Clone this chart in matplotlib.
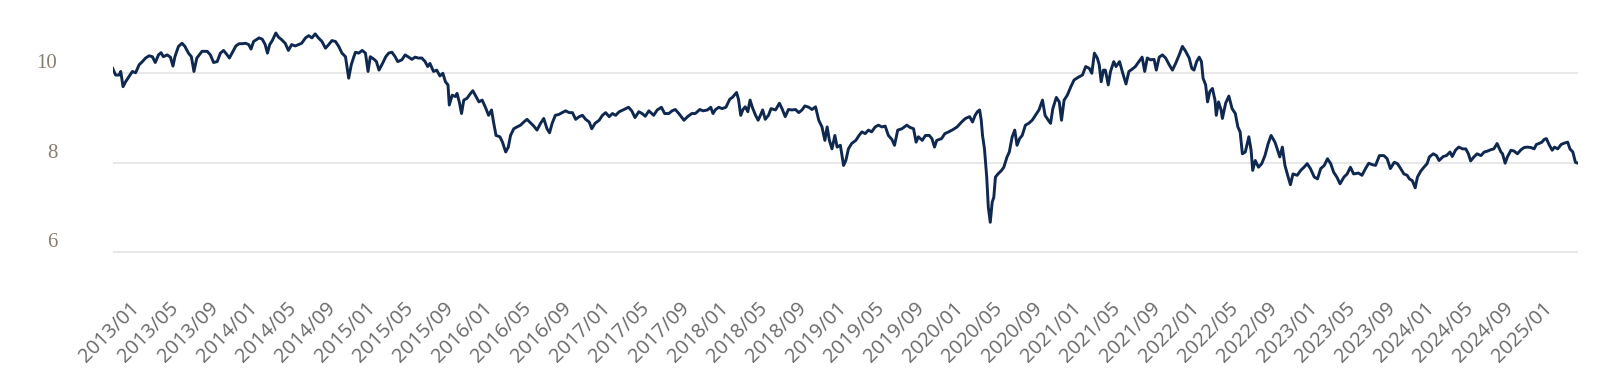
import matplotlib
matplotlib.use("Agg")
import matplotlib.pyplot as plt
import pandas as pd

# values
dates = [
    "2012-10-18", "2012-10-27", "2012-11-07", "2012-11-12", "2012-11-19", "2012-11-27",
    "2012-12-08", "2012-12-18", "2012-12-28", "2013-01-08", "2013-01-18", "2013-01-28",
    "2013-02-08", "2013-02-18", "2013-02-27", "2013-03-09", "2013-03-17", "2013-03-24",
    "2013-04-05", "2013-04-15", "2013-04-23", "2013-04-29", "2013-05-10", "2013-05-21",
    "2013-05-30", "2013-06-10", "2013-06-19", "2013-06-27", "2013-07-06", "2013-07-22",
    "2013-08-07", "2013-08-17", "2013-08-27", "2013-09-07", "2013-09-17", "2013-09-27",
    "2013-10-08", "2013-10-15", "2013-10-23", "2013-11-04", "2013-11-14", "2013-11-24",
    "2013-12-04", "2013-12-14", "2013-12-21", "2013-12-29", "2014-01-15", "2014-01-25",
    "2014-02-03", "2014-02-10", "2014-02-17", "2014-02-25", "2014-03-08", "2014-03-16",
    "2014-03-26", "2014-04-06", "2014-04-16", "2014-04-26", "2014-05-07", "2014-05-17",
    "2014-05-27", "2014-06-08", "2014-06-18", "2014-06-28", "2014-07-08", "2014-07-18",
    "2014-07-29", "2014-08-09", "2014-08-19", "2014-08-29", "2014-09-09", "2014-09-19",
    "2014-09-29", "2014-10-10", "2014-10-20", "2014-10-28", "2014-11-05", "2014-11-10",
    "2014-11-20", "2014-12-01", "2014-12-11", "2014-12-19", "2014-12-26", "2015-01-07",
    "2015-01-14", "2015-01-22", "2015-02-02", "2015-02-12", "2015-02-21", "2015-03-03",
    "2015-03-13", "2015-03-21", "2015-04-03", "2015-04-13", "2015-04-24", "2015-05-04",
    "2015-05-14", "2015-05-24", "2015-06-04", "2015-06-14", "2015-06-22", "2015-06-29",
    "2015-07-10", "2015-07-20", "2015-07-30", "2015-08-08", "2015-08-16", "2015-08-24",
    "2015-08-28", "2015-09-06", "2015-09-16", "2015-09-21", "2015-09-28", "2015-10-05",
    "2015-10-12", "2015-10-22", "2015-11-02", "2015-11-09", "2015-11-19", "2015-11-28",
    "2015-12-08", "2015-12-18", "2015-12-28", "2016-01-06", "2016-01-13", "2016-01-20",
    "2016-02-01", "2016-02-09", "2016-02-19", "2016-02-27", "2016-03-05", "2016-03-15",
    "2016-03-25", "2016-04-05", "2016-04-15", "2016-04-25", "2016-05-06", "2016-05-16",
    "2016-05-26", "2016-06-06", "2016-06-16", "2016-06-26", "2016-07-04", "2016-07-12",
    "2016-07-22", "2016-08-02", "2016-08-12", "2016-08-23", "2016-09-03", "2016-09-13",
    "2016-09-23", "2016-10-04", "2016-10-14", "2016-10-24", "2016-11-04", "2016-11-12",
    "2016-11-22", "2016-12-05", "2016-12-15", "2016-12-25", "2017-01-05", "2017-01-15",
    "2017-01-25", "2017-02-05", "2017-02-20", "2017-03-06", "2017-03-16", "2017-03-26",
    "2017-04-07", "2017-04-17", "2017-04-27", "2017-05-08", "2017-05-23", "2017-06-03",
    "2017-06-16", "2017-06-26", "2017-07-09", "2017-07-19", "2017-07-29", "2017-08-09",
    "2017-08-25", "2017-09-05", "2017-09-18", "2017-09-29", "2017-10-13", "2017-10-23",
    "2017-11-06", "2017-11-16", "2017-11-23", "2017-12-01", "2017-12-11", "2017-12-21",
    "2018-01-02", "2018-01-14", "2018-01-22", "2018-02-04", "2018-02-10", "2018-02-17",
    "2018-02-24", "2018-03-03", "2018-03-11", "2018-03-18", "2018-03-25", "2018-04-04",
    "2018-04-12", "2018-04-19", "2018-04-26", "2018-05-04", "2018-05-14", "2018-05-22",
    "2018-06-05", "2018-06-17", "2018-06-25", "2018-07-05", "2018-07-15", "2018-07-26",
    "2018-08-06", "2018-08-16", "2018-08-26", "2018-09-04", "2018-09-16", "2018-09-26",
    "2018-10-07", "2018-10-17", "2018-10-27", "2018-11-05", "2018-11-12", "2018-11-19",
    "2018-11-27", "2018-12-06", "2018-12-13", "2018-12-23", "2019-01-02", "2019-01-09",
    "2019-01-17", "2019-01-27", "2019-02-09", "2019-02-19", "2019-02-28", "2019-03-10",
    "2019-03-20", "2019-03-30", "2019-04-10", "2019-04-20", "2019-05-01", "2019-05-11",
    "2019-05-21", "2019-06-01", "2019-06-09", "2019-06-19", "2019-07-02", "2019-07-17",
    "2019-07-27", "2019-08-07", "2019-08-15", "2019-08-22", "2019-09-03", "2019-09-13",
    "2019-09-25", "2019-10-03", "2019-10-11", "2019-10-18", "2019-11-02", "2019-11-12",
    "2019-11-24", "2019-12-07", "2019-12-20", "2020-01-03", "2020-01-15", "2020-01-28",
    "2020-02-06", "2020-02-14", "2020-02-21", "2020-02-28", "2020-03-04", "2020-03-08",
    "2020-03-14", "2020-03-21", "2020-03-26", "2020-04-01", "2020-04-07", "2020-04-12",
    "2020-04-17", "2020-04-25", "2020-05-06", "2020-05-13", "2020-05-23", "2020-05-30",
    "2020-06-08", "2020-06-16", "2020-06-23", "2020-07-01", "2020-07-09", "2020-07-19",
    "2020-07-29", "2020-08-09", "2020-08-19", "2020-08-30", "2020-09-10", "2020-09-18",
    "2020-09-28", "2020-10-05", "2020-10-12", "2020-10-23", "2020-11-01", "2020-11-08",
    "2020-11-16", "2020-11-26", "2020-12-07", "2020-12-17", "2020-12-30", "2021-01-12",
    "2021-01-22", "2021-02-02", "2021-02-10", "2021-02-18", "2021-02-27", "2021-03-05",
    "2021-03-11", "2021-03-18", "2021-03-24", "2021-04-02", "2021-04-09", "2021-04-19",
    "2021-04-26", "2021-05-07", "2021-05-17", "2021-05-27", "2021-06-05", "2021-06-15",
    "2021-06-25", "2021-07-06", "2021-07-16", "2021-07-24", "2021-08-01", "2021-08-11",
    "2021-08-22", "2021-08-29", "2021-09-07", "2021-09-17", "2021-09-27", "2021-10-08",
    "2021-10-18", "2021-10-28", "2021-11-08", "2021-11-18", "2021-11-28", "2021-12-09",
    "2021-12-17", "2021-12-24", "2022-01-01", "2022-01-09", "2022-01-16", "2022-01-21",
    "2022-01-29", "2022-02-04", "2022-02-11", "2022-02-19", "2022-02-27", "2022-03-03",
    "2022-03-10", "2022-03-18", "2022-03-22", "2022-04-01", "2022-04-11", "2022-04-21",
    "2022-05-01", "2022-05-09", "2022-05-16", "2022-05-23", "2022-06-01", "2022-06-12",
    "2022-06-19", "2022-06-24", "2022-07-02", "2022-07-12", "2022-07-22", "2022-08-01",
    "2022-08-11", "2022-08-20", "2022-09-01", "2022-09-08", "2022-09-16", "2022-09-24",
    "2022-10-02", "2022-10-12", "2022-10-19", "2022-10-27", "2022-11-09", "2022-11-20",
    "2022-11-30", "2022-12-10", "2022-12-20", "2023-01-01", "2023-01-11", "2023-01-21",
    "2023-02-01", "2023-02-11", "2023-02-21", "2023-03-02", "2023-03-12", "2023-03-22",
    "2023-04-03", "2023-04-13", "2023-04-23", "2023-05-03", "2023-05-18", "2023-05-29",
    "2023-06-09", "2023-06-19", "2023-06-29", "2023-07-10", "2023-07-22", "2023-08-05",
    "2023-08-15", "2023-08-25", "2023-09-06", "2023-09-16", "2023-09-26", "2023-10-06",
    "2023-10-16", "2023-10-23", "2023-11-01", "2023-11-10", "2023-11-17", "2023-11-27",
    "2023-12-07", "2023-12-17", "2023-12-24", "2024-01-05", "2024-01-15", "2024-01-23",
    "2024-02-05", "2024-02-15", "2024-02-26", "2024-03-04", "2024-03-14", "2024-03-24",
    "2024-04-05", "2024-04-15", "2024-04-23", "2024-04-30", "2024-05-10", "2024-05-20",
    "2024-06-01", "2024-06-11", "2024-06-21", "2024-07-01", "2024-07-11", "2024-07-21",
    "2024-08-02", "2024-08-07", "2024-08-15", "2024-08-22", "2024-09-02", "2024-09-12",
    "2024-09-22", "2024-10-03", "2024-10-13", "2024-10-23", "2024-11-03", "2024-11-13",
    "2024-11-20", "2024-11-28", "2024-12-07", "2024-12-14", "2024-12-21", "2024-12-29",
    "2025-01-08", "2025-01-15", "2025-01-25", "2025-02-05", "2025-02-15", "2025-02-25",
    "2025-03-04", "2025-03-13", "2025-03-21", "2025-03-29",
]

values = [
    10.11, 9.96, 9.96, 10.04, 9.70, 9.81,
    9.93, 10.04, 10.01, 10.19, 10.26, 10.34,
    10.39, 10.37, 10.24, 10.41, 10.46, 10.37,
    10.41, 10.36, 10.16, 10.37, 10.60, 10.67,
    10.60, 10.45, 10.37, 10.04, 10.34, 10.49,
    10.49, 10.41, 10.24, 10.26, 10.45, 10.51,
    10.41, 10.34, 10.45, 10.61, 10.66, 10.66,
    10.67, 10.64, 10.54, 10.71, 10.79, 10.76,
    10.64, 10.45, 10.64, 10.73, 10.90, 10.81,
    10.75, 10.67, 10.51, 10.64, 10.61, 10.64,
    10.67, 10.79, 10.84, 10.79, 10.88, 10.79,
    10.71, 10.56, 10.64, 10.73, 10.71, 10.60,
    10.45, 10.37, 9.89, 10.19, 10.37, 10.47,
    10.45, 10.51, 10.45, 10.04, 10.37, 10.31,
    10.26, 10.07, 10.22, 10.37, 10.45, 10.47,
    10.37, 10.26, 10.30, 10.41, 10.36, 10.31,
    10.36, 10.34, 10.34, 10.26, 10.15, 10.22,
    10.04, 10.07, 9.94, 10.00, 9.81, 9.74,
    9.29, 9.51, 9.48, 9.55, 9.36, 9.10,
    9.40, 9.44, 9.55, 9.61, 9.48, 9.36,
    9.40, 9.24, 9.06, 9.18, 8.88, 8.61,
    8.58, 8.46, 8.24, 8.35, 8.61, 8.76,
    8.80, 8.84, 8.91, 8.97, 8.89, 8.82,
    8.73, 8.88, 8.99, 8.76, 8.67, 8.88,
    9.06, 9.08, 9.12, 9.16, 9.12, 9.12,
    8.97, 9.03, 9.06, 8.97, 8.91, 8.76,
    8.88, 8.95, 9.06, 9.12, 9.03, 9.10,
    9.06, 9.14, 9.19, 9.24, 9.16, 9.01,
    9.14, 9.10, 9.04, 9.16, 9.06, 9.18,
    9.24, 9.10, 9.10, 9.16, 9.19, 9.10,
    8.95, 9.03, 9.10, 9.10, 9.19, 9.16,
    9.18, 9.24, 9.10, 9.19, 9.24, 9.21,
    9.24, 9.42, 9.46, 9.57, 9.42, 9.06,
    9.19, 9.25, 9.14, 9.40, 9.24, 9.06,
    8.95, 9.06, 9.18, 8.97, 9.06, 9.21,
    9.18, 9.33, 9.21, 9.03, 9.19, 9.18,
    9.19, 9.12, 9.18, 9.27, 9.24, 9.19,
    9.25, 8.95, 8.80, 8.50, 8.80, 8.50,
    8.31, 8.61, 8.35, 8.39, 7.94, 8.05,
    8.31, 8.43, 8.50, 8.61, 8.69, 8.65,
    8.73, 8.69, 8.80, 8.84, 8.80, 8.82,
    8.61, 8.52, 8.39, 8.73, 8.76, 8.84,
    8.79, 8.76, 8.46, 8.58, 8.50, 8.61,
    8.61, 8.54, 8.35, 8.50, 8.54, 8.65,
    8.69, 8.74, 8.80, 8.91, 8.99, 9.03,
    8.91, 9.06, 9.14, 9.18, 8.95, 8.61,
    8.31, 7.68, 7.00, 6.67, 7.12, 7.23,
    7.68, 7.75, 7.83, 7.90, 8.13, 8.24,
    8.58, 8.73, 8.39, 8.54, 8.61, 8.84,
    8.88, 8.95, 9.06, 9.18, 9.40, 9.06,
    8.95, 8.88, 9.21, 9.46, 9.36, 8.95,
    9.40, 9.51, 9.70, 9.85, 9.91, 9.96,
    10.15, 10.11, 10.00, 10.45, 10.34, 10.19,
    9.81, 10.07, 10.07, 9.74, 10.04, 10.26,
    10.15, 10.26, 10.00, 9.76, 10.04, 10.09,
    10.15, 10.26, 10.36, 10.04, 10.34, 10.30,
    10.31, 10.07, 10.36, 10.41, 10.34, 10.19,
    10.07, 10.22, 10.41, 10.60, 10.49, 10.34,
    10.11, 10.07, 10.26, 10.36, 10.26, 9.89,
    9.74, 9.36, 9.59, 9.66, 9.40, 9.06,
    9.36, 9.18, 8.99, 9.33, 9.49, 9.21,
    9.10, 8.80, 8.69, 8.20, 8.24, 8.58,
    8.28, 7.83, 8.05, 7.90, 7.98, 8.16,
    8.43, 8.61, 8.46, 8.31, 8.13, 8.35,
    7.94, 7.68, 7.51, 7.75, 7.72, 7.83,
    7.90, 7.98, 7.87, 7.68, 7.64, 7.87,
    7.94, 8.09, 7.98, 7.79, 7.68, 7.53,
    7.68, 7.75, 7.90, 7.75, 7.77, 7.72,
    7.87, 7.99, 7.96, 7.94, 8.16, 8.16,
    8.09, 7.87, 8.01, 7.98, 7.87, 7.75,
    7.72, 7.64, 7.60, 7.44, 7.68, 7.81,
    7.90, 7.98, 8.13, 8.20, 8.16, 8.05,
    8.14, 8.16, 8.24, 8.14, 8.28, 8.35,
    8.31, 8.31, 8.20, 8.04, 8.13, 8.20,
    8.16, 8.24, 8.26, 8.29, 8.31, 8.43,
    8.24, 8.20, 7.99, 8.13, 8.28, 8.26,
    8.20, 8.29, 8.34, 8.35, 8.34, 8.31,
    8.41, 8.43, 8.46, 8.52, 8.54, 8.41,
    8.28, 8.35, 8.31, 8.41, 8.44, 8.46,
    8.31, 8.24, 8.01, 7.99,
]

y_ticks = [6, 8, 10]
x_tick_dates = pd.date_range("2013-01-01", "2025-01-01", freq="4MS")
x_tick_labels = [d.strftime("%Y/%m") for d in x_tick_dates]

df = pd.DataFrame({"date": pd.to_datetime(dates), "value": values})

fig = plt.figure(figsize=(16, 3.71), dpi=100)
ax = fig.add_axes([112.7 / 1600, 91 / 371, 1465.3 / 1600, 260 / 371])

ax.plot(df["date"], df["value"], color="#0f284f", linewidth=2.1, solid_joinstyle="round")

ax.set_xlim(df["date"].min(), df["date"].max())
ax.set_ylim(5.38, 11.19)

# gridlines only, no spines
for s in ax.spines.values():
    s.set_visible(False)
ax.yaxis.grid(True, color="#e2e2e2", linewidth=1.1)
ax.set_axisbelow(True)

ax.set_yticks(y_ticks)
ax.set_yticklabels([str(v) for v in y_ticks], fontfamily="Liberation Serif",
                   fontsize=15, color="#8a7e70", va="bottom")
ax.tick_params(axis="y", length=0, pad=40)

ax.set_xticks(x_tick_dates)
ax.set_xticklabels(x_tick_labels, fontfamily="Open Sans", fontsize=14.5, color="#6a6a6a",
                   rotation=45, ha="right", va="center", rotation_mode="anchor")
ax.tick_params(axis="x", length=0, pad=18)

fig.savefig("out.png", dpi=100)
